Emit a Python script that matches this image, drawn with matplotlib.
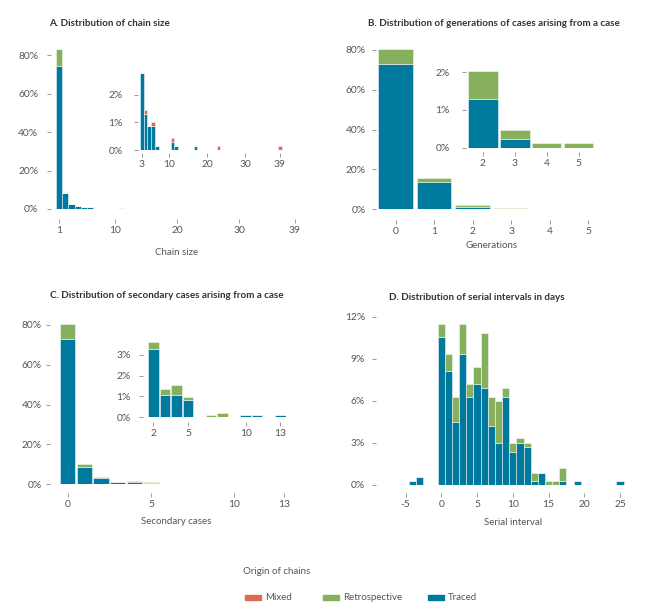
import matplotlib
matplotlib.use("Agg")
import matplotlib.pyplot as plt
from matplotlib.patches import Rectangle
from matplotlib.ticker import PercentFormatter
import numpy as np

plt.rcParams['font.family'] = ['Lato', 'DejaVu Sans']
plt.rcParams['axes.unicode_minus'] = False

W, H = 667, 613

BLUE = '#00799e'
GREEN = '#86af5e'
RED = '#d96b52'
TICK_C = '#9a9a9a'
LABEL_C = '#555555'
TITLE_C = '#333333'

# ---- A. chain size (% of chains) ----
chain_size = [1, 2, 3, 4, 5, 6, 7, 11, 12, 17, 23, 39]
chain_traced = [74.3, 8.2, 2.8, 1.3, 0.87, 0.87, 0.15, 0.29, 0.15, 0.15, 0, 0]
chain_retro = [8.7, 0, 0, 0, 0, 0, 0, 0, 0, 0, 0, 0]
chain_mixed = [0, 0, 0, 0.15, 0, 0.15, 0, 0.15, 0, 0, 0.15, 0.15]

# ---- B. generations ----
generation = [0, 1, 2, 3, 4, 5]
gen_traced = [72.8, 13.9, 1.30, 0.24, 0, 0]
gen_retro = [7.7, 1.7, 0.73, 0.23, 0.12, 0.12]

# ---- C. secondary cases ----
secondary = list(range(14))
sec_traced = [72.8, 8.8, 3.26, 1.07, 1.07, 0.83, 0, 0, 0, 0, 0.11, 0.11, 0, 0.11]
sec_retro = [7.7, 1.4, 0.37, 0.27, 0.48, 0.13, 0, 0.11, 0.22, 0, 0, 0, 0, 0]

# ---- D. serial interval (days) ----
serial = [-4, -3, 0, 1, 2, 3, 4, 5, 6, 7, 8, 9, 10, 11, 12, 13, 14, 15, 16, 17, 19, 25]
ser_traced = [0.29, 0.59, 10.53, 8.13, 4.49, 9.34, 6.30, 7.22, 6.92, 4.21, 2.97, 6.30,
              2.38, 2.97, 2.69, 0.29, 0.88, 0, 0, 0.29, 0.29, 0.29]
ser_retro = [0, 0, 0.92, 1.21, 1.81, 2.11, 0.90, 1.22, 3.94, 2.09, 3.04, 0.62,
             0.59, 0.36, 0.28, 0.59, 0, 0.29, 0.29, 0.90, 0, 0]


def box(l, t, r, b):
    # pixel box -> figure fraction
    return [l / W, 1 - b / H, (r - l) / W, (b - t) / H]


def stack(ax, x, layers, width):
    bottom = np.zeros(len(x))
    for vals, c in layers:
        vals = np.array(vals, dtype=float)
        ax.bar(x, vals, width=width, bottom=bottom, color=c,
               edgecolor=(1, 1, 1, 0.75), linewidth=0.45)
        bottom += vals


def style(ax, xt, yt, y_out, y_pad, x_out, size=7.4, xlim=None, ylim=None, base=False):
    for s in ['top', 'right']:
        ax.spines[s].set_visible(False)
    ax.spines['left'].set_position(('outward', y_out))
    ax.spines['bottom'].set_position(('outward', x_out))
    ax.spines['left'].set_visible(False)
    ax.spines['bottom'].set_visible(False)
    ax.set_xticks(xt)
    ax.set_yticks(yt)
    ax.yaxis.set_major_formatter(PercentFormatter(xmax=100, decimals=0))
    ax.tick_params(axis='y', length=3, width=0.7, color=TICK_C, labelcolor=LABEL_C,
                   labelsize=size, pad=y_pad)
    ax.tick_params(axis='x', length=3, width=0.7, color=TICK_C, labelcolor=LABEL_C,
                   labelsize=size, pad=2)
    ax.set_xlim(*xlim)
    ax.set_ylim(*ylim)
    ax.patch.set_alpha(0)
    if base:
        ax.axhline(0, color='#dddddd', lw=0.8, zorder=0)


fig = plt.figure(figsize=(W / 100, H / 100), dpi=100)

# A main
axA = fig.add_axes(box(52.8, 45.4, 301.2, 209))
stack(axA, chain_size, [(chain_traced, BLUE), (chain_retro, GREEN), (chain_mixed, RED)], 1.0)
style(axA, [1, 10, 20, 30, 39], [0, 20, 40, 60, 80], 1.5, 6, 7.5, xlim=(0, 40), ylim=(0, 85))
axA.set_xlabel('Chain size', fontsize=7, color=LABEL_C)
axA.xaxis.set_label_coords(0.5, -0.24)

# A inset
axAi = fig.add_axes(box(137.9, 71.6, 283.8, 150))
stack(axAi, chain_size[2:], [(chain_traced[2:], BLUE), (chain_retro[2:], GREEN),
                             (chain_mixed[2:], RED)], 1.0)
style(axAi, [3, 10, 20, 30, 39], [0, 1, 2], 0, 8, 2.5, xlim=(2, 40), ylim=(0, 2.85), base=True)

# B main
axB = fig.add_axes(box(376.4, 46, 607.4, 209.3))
stack(axB, generation, [(gen_traced, BLUE), (gen_retro, GREEN)], 0.9)
style(axB, generation, [0, 20, 40, 60, 80], 0.5, 4, 7.5, xlim=(-0.5, 5.5), ylim=(0, 82))
axB.set_xlabel('Generations', fontsize=7, color=LABEL_C)
axB.xaxis.set_label_coords(0.5, -0.195)

# B inset
axBi = fig.add_axes(box(467, 70.4, 594.6, 147.7))
stack(axBi, generation[2:], [(gen_traced[2:], BLUE), (gen_retro[2:], GREEN)], 0.92)
style(axBi, generation[2:], [0, 1, 2], 0.5, 9, 3.3, xlim=(1.5, 5.5), ylim=(0, 2.05), base=True)

# C main
axC = fig.add_axes(box(59.4, 321, 292.7, 484.3))
stack(axC, secondary, [(sec_traced, BLUE), (sec_retro, GREEN)], 0.92)
style(axC, [0, 5, 10, 13], [0, 20, 40, 60, 80], 6.8, 3, 6.2, xlim=(-0.5, 13.5), ylim=(0, 82))
axC.set_xlabel('Secondary cases', fontsize=7, color=LABEL_C)
axC.xaxis.set_label_coords(0.5, -0.2)

# C inset
axCi = fig.add_axes(box(147.7, 340.3, 286, 417.3))
stack(axCi, secondary[2:], [(sec_traced[2:], BLUE), (sec_retro[2:], GREEN)], 0.92)
style(axCi, [2, 5, 10, 13], [0, 1, 2, 3], 3.2, 6, 3.2, xlim=(1.5, 13.5), ylim=(0, 3.7), base=True)

# D main
axD = fig.add_axes(box(398.4, 316.7, 627.2, 485))
stack(axD, serial, [(ser_traced, BLUE), (ser_retro, GREEN)], 1.0)
style(axD, [-5, 0, 5, 10, 15, 20, 25], [0, 3, 6, 9, 12], 16, 5, 5.6, xlim=(-6, 26), ylim=(0, 12))
axD.set_xlabel('Serial interval', fontsize=7, color=LABEL_C)
axD.xaxis.set_label_coords(0.5, -0.195)

# titles
tkw = dict(fontsize=7.1, fontweight='bold', color=TITLE_C, va='center', ha='left')
fig.text(49 / W, 1 - 24 / H, 'A. Distribution of chain size', **tkw)
fig.text(368 / W, 1 - 24 / H, 'B. Distribution of generations of cases arising from a case', **tkw)
fig.text(50 / W, 1 - 295 / H, 'C. Distribution of secondary cases arising from a case', **tkw)
fig.text(389 / W, 1 - 297 / H, 'D. Distribution of serial intervals in days', **tkw)

# legend
fig.text(243 / W, 1 - 572 / H, 'Origin of chains', fontsize=7, color=LABEL_C, va='center')
legend_items = [('Mixed', RED, 245), ('Retrospective', GREEN, 323), ('Traced', BLUE, 428)]
for name, c, xp in legend_items:
    fig.add_artist(Rectangle((xp / W, 1 - 599.5 / H), 15.5 / W, 5 / H,
                             transform=fig.transFigure, color=c))
    fig.text((xp + 20) / W, 1 - 597 / H, name, fontsize=7, color=LABEL_C, va='center')

fig.savefig('out.png', dpi=100)
